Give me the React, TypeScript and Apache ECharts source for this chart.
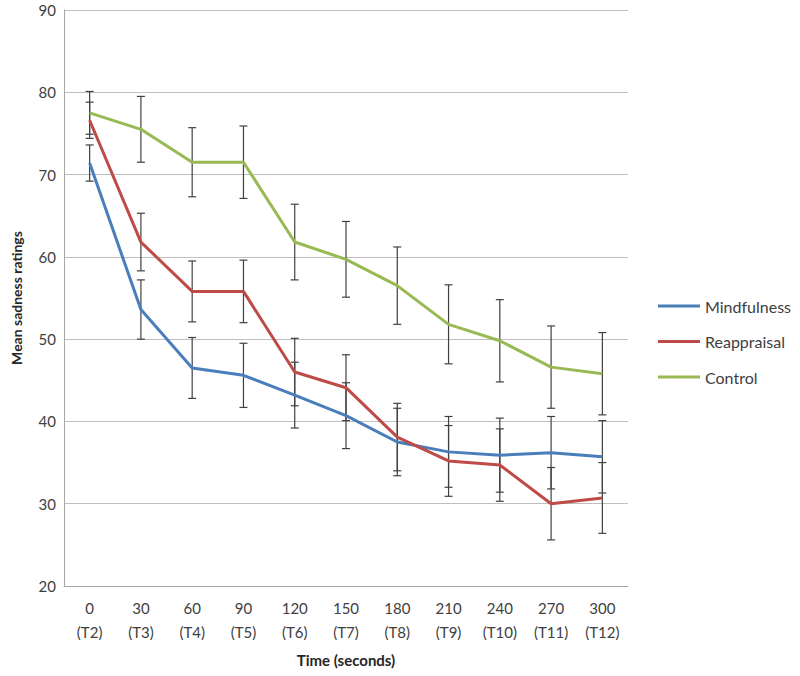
import React, { useEffect, useRef } from "react";
import * as echarts from "echarts";

const categories = ["0\n(T2)", "30\n(T3)", "60\n(T4)", "90\n(T5)", "120\n(T6)", "150\n(T7)", "180\n(T8)", "210\n(T9)", "240\n(T10)", "270\n(T11)", "300\n(T12)"];

const mindfulness = [71.4, 53.6, 46.5, 45.6, 43.2, 40.7, 37.5, 36.3, 35.9, 36.2, 35.7];
const mindfulnessErr = [2.2, 3.6, 3.7, 3.9, 4.0, 4.0, 4.1, 4.3, 4.5, 4.4, 4.4];
const reappraisal = [76.6, 61.8, 55.8, 55.8, 46.0, 44.1, 38.1, 35.2, 34.7, 30.0, 30.7];
const reappraisalErr = [2.2, 3.5, 3.7, 3.8, 4.1, 4.0, 4.1, 4.3, 4.4, 4.4, 4.3];
const control = [77.5, 75.5, 71.5, 71.5, 61.8, 59.7, 56.5, 51.8, 49.8, 46.6, 45.8];
const controlErr = [2.6, 4.0, 4.2, 4.4, 4.6, 4.6, 4.7, 4.8, 5.0, 5.0, 5.0];

const FONT = "Lato, 'Open Sans', sans-serif";

function errorData(vals: number[], errs: number[]) {
  return vals.map((v, i) => [i, v - errs[i], v + errs[i]]);
}

function errorSeries(name: string, vals: number[], errs: number[]) {
  return {
    type: "custom",
    name: name + " error",
    z: 1,
    silent: true,
    data: errorData(vals, errs),
    encode: { x: 0, y: [1, 2] },
    renderItem: (params: any, api: any) => {
      const x = api.value(0);
      const lo = api.coord([x, api.value(1)]);
      const hi = api.coord([x, api.value(2)]);
      const half = 4;
      const style = { stroke: "#404040", lineWidth: 1.2 };
      return {
        type: "group",
        children: [
          { type: "line", shape: { x1: lo[0], y1: lo[1], x2: hi[0], y2: hi[1] }, style },
          { type: "line", shape: { x1: lo[0] - half, y1: lo[1], x2: lo[0] + half, y2: lo[1] }, style },
          { type: "line", shape: { x1: hi[0] - half, y1: hi[1], x2: hi[0] + half, y2: hi[1] }, style },
        ],
      };
    },
  };
}

function lineSeries(name: string, vals: number[], color: string) {
  return {
    type: "line",
    name,
    data: vals,
    z: 3,
    symbol: "none",
    lineStyle: { color, width: 3 },
    itemStyle: { color },
  };
}

export default function App() {
  const ref = useRef<HTMLDivElement>(null);
  useEffect(() => {
    if (!ref.current) return;
    const chart = echarts.init(ref.current, null, { renderer: "svg" });
    chart.setOption({
      animation: false,
      backgroundColor: "#ffffff",
      grid: { left: 64, top: 10, right: 172, bottom: 90 },
      legend: {
        orient: "vertical",
        left: 653,
        top: 292,
        itemWidth: 42,
        itemHeight: 3,
        itemGap: 17.5,
        icon: "rect",
        data: ["Mindfulness", "Reappraisal", "Control"],
        textStyle: { fontFamily: FONT, fontSize: 16, color: "#404040", lineHeight: 18 },
      },
      xAxis: {
        type: "category",
        data: categories,
        boundaryGap: true,
        name: "Time (seconds)",
        nameLocation: "middle",
        nameGap: 66,
        nameTextStyle: { fontFamily: FONT, fontSize: 15, fontWeight: "bold", color: "#262626" },
        axisLine: { lineStyle: { color: "#a6a6a6", width: 1 } },
        axisTick: { show: false },
        axisLabel: { fontFamily: FONT, fontSize: 15, color: "#404040", lineHeight: 24, margin: 10, interval: 0 },
      },
      yAxis: {
        type: "value",
        min: 20,
        max: 90,
        interval: 10,
        name: "Mean sadness ratings",
        nameLocation: "middle",
        nameGap: 41,
        nameTextStyle: { fontFamily: FONT, fontSize: 14, fontWeight: "bold", color: "#262626" },
        axisLine: { show: true, lineStyle: { color: "#a6a6a6", width: 1 } },
        axisTick: { show: false },
        axisLabel: { fontFamily: FONT, fontSize: 15, color: "#404040", margin: 8 },
        splitLine: { lineStyle: { color: "#bfbfbf", width: 1 } },
      },
      series: [
        errorSeries("Mindfulness", mindfulness, mindfulnessErr),
        errorSeries("Reappraisal", reappraisal, reappraisalErr),
        errorSeries("Control", control, controlErr),
        lineSeries("Mindfulness", mindfulness, "#4a7ebb"),
        lineSeries("Reappraisal", reappraisal, "#be4b48"),
        lineSeries("Control", control, "#98b954"),
      ],
    });
    return () => chart.dispose();
  }, []);
  return <div ref={ref} style={{ width: 800, height: 676, position: "absolute", left: 0, top: 0 }} />;
}
